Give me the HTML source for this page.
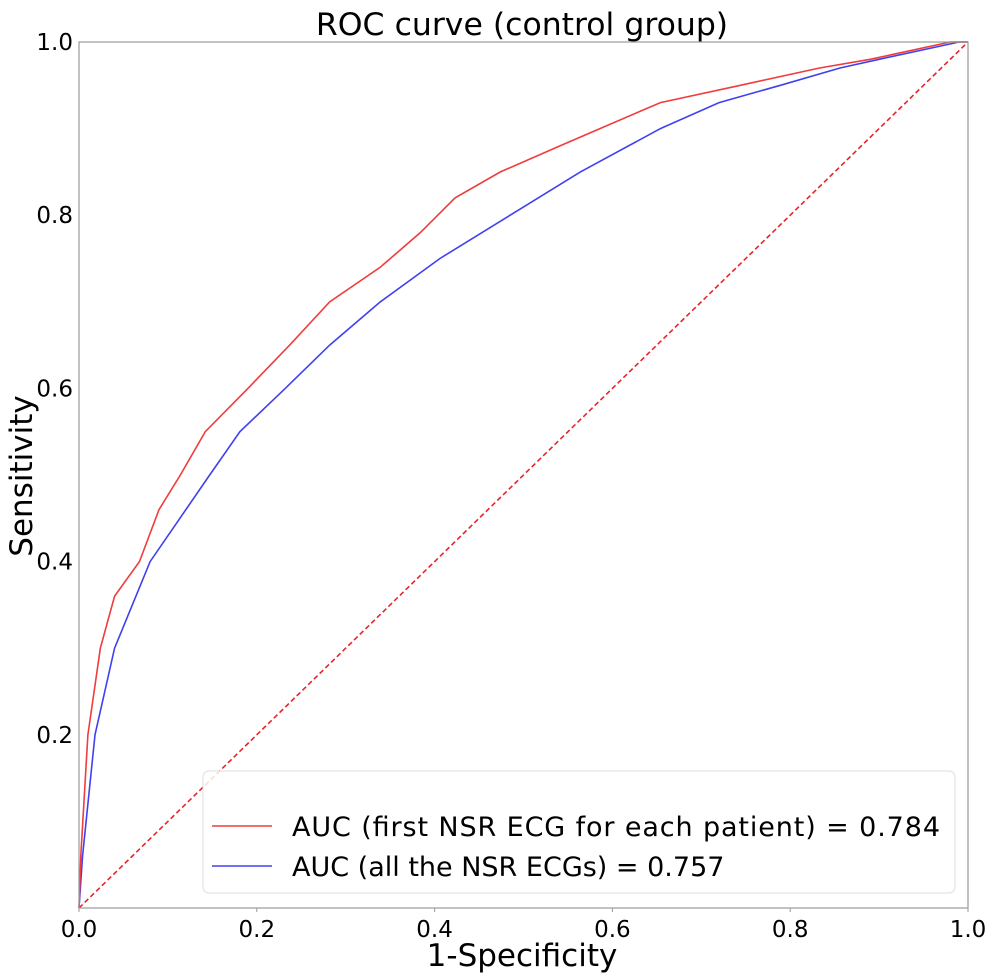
<!DOCTYPE html>
<html><head><meta charset="utf-8"><style>
body{margin:0;background:#fff;}
svg{display:block;font-family:"DejaVu Sans","Liberation Sans",sans-serif;}
</style></head><body>
<svg id="chart" width="992" height="976">
<text x="522" y="35" font-size="31.5" text-anchor="middle">ROC curve (control group)</text>
<g id="ticks"></g>
<line x1="79" y1="908" x2="968" y2="42" stroke="#e8242a" stroke-width="1.6" stroke-dasharray="5,3"/>
<g id="series"></g>
<rect x="79" y="42" width="889" height="866" fill="none" stroke="#999" stroke-width="1.2"/>
<text x="522" y="966" font-size="31" text-anchor="middle">1-Specificity</text>
<text x="0" y="0" font-size="31" text-anchor="middle" transform="translate(32,476) rotate(-90)">Sensitivity</text>
<g>
<rect x="203" y="771" width="752" height="122" rx="6" fill="#fff" fill-opacity="0.85" stroke="#ddd"/>
<line x1="212" y1="826" x2="272" y2="826" stroke="#f03c3c" stroke-width="1.6"/>
<text x="292" y="836" font-size="27" textLength="648">AUC (first NSR ECG for each patient) = 0.784</text>
<line x1="212" y1="866" x2="272" y2="866" stroke="#4040f0" stroke-width="1.6"/>
<text x="292" y="876" font-size="27">AUC (all the NSR ECGs) = 0.757</text>
</g>
</svg>
<script>
const tickValues=[0,0.2,0.4,0.6,0.8,1.0];
const tickLabels=["0.0","0.2","0.4","0.6","0.8","1.0"];
const firstFpr=[0,0.002,0.01,0.024,0.04,0.068,0.09,0.114,0.142,0.19,0.237,0.282,0.339,0.384,0.423,0.474,0.541,0.586,0.654,0.744,0.833,0.89,0.98,1];
const firstTpr=[0,0.06,0.2,0.3,0.36,0.4,0.46,0.5,0.55,0.6,0.65,0.7,0.74,0.78,0.82,0.85,0.88,0.9,0.93,0.95,0.97,0.98,1,1];
const allFpr=[0,0.004,0.018,0.04,0.08,0.147,0.181,0.232,0.282,0.339,0.406,0.485,0.564,0.654,0.72,0.789,0.856,0.9,0.99,1];
const allTpr=[0,0.06,0.2,0.3,0.4,0.5,0.55,0.6,0.65,0.7,0.75,0.8,0.85,0.9,0.93,0.95,0.97,0.98,1,1];
const X=v=>79+v*889, Y=v=>908-v*866;
const NS="http://www.w3.org/2000/svg";
const tg=document.getElementById('ticks');
tickValues.forEach((v,i)=>{
 let t=document.createElementNS(NS,'text');
 t.setAttribute('x',X(v));t.setAttribute('y',937);t.setAttribute('font-size','23');t.setAttribute('text-anchor','middle');
 t.textContent=tickLabels[i];
 
 
 tg.appendChild(t);
 if(v>0){
 let u=document.createElementNS(NS,'text');
 u.setAttribute('x',73);u.setAttribute('y',Y(v)+8);u.setAttribute('font-size','23');u.setAttribute('text-anchor','end');
 u.textContent=tickLabels[i];
 
 
 tg.appendChild(u);}
 let l=document.createElementNS(NS,'line');
 l.setAttribute('x1',X(v));l.setAttribute('x2',X(v));l.setAttribute('y1',908);l.setAttribute('y2',912);l.setAttribute('stroke','#999');
 
 
 tg.appendChild(l);
});
const sg=document.getElementById('series');
function draw(xs,ys,color,name){
 let p=document.createElementNS(NS,'polyline');
 p.setAttribute('points',xs.map((x,i)=>X(x)+','+Y(ys[i])).join(' '));
 p.setAttribute('fill','none');p.setAttribute('stroke',color);p.setAttribute('stroke-width','1.6');
 
 
 sg.appendChild(p);
}
draw(allFpr,allTpr,'#4040f0','roc-all-ecgs');
draw(firstFpr,firstTpr,'#f03c3c','roc-first-ecg');
</script>
</body></html>
